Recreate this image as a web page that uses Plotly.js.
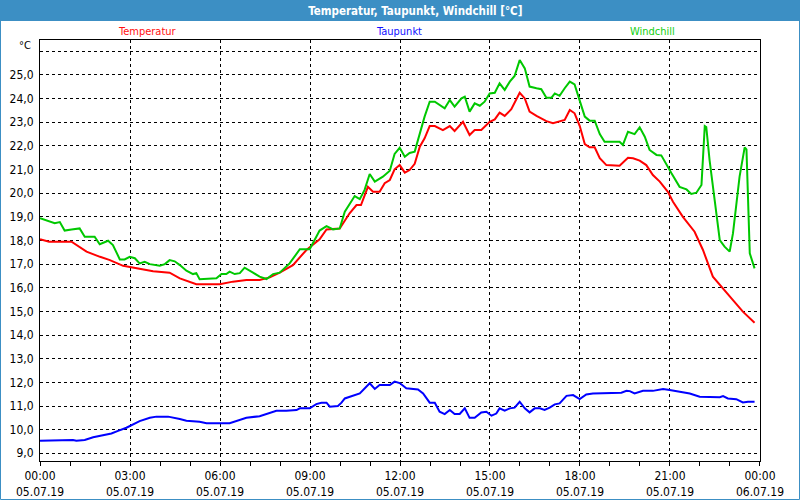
<!DOCTYPE html>
<html>
<head>
<meta charset="utf-8">
<script src="https://cdn.plot.ly/plotly-3.0.1.min.js"></script>
<style>
  html, body { margin: 0; padding: 0; background: #ffffff; }
  #chart { width: 800px; height: 500px; }
</style>
</head>
<body>
<div id="chart"></div>
<script>
// Time of day in hours (05.07.19)
const tempHours = [0.00,0.30,1.05,1.55,2.00,2.33,2.77,3.21,3.55,3.77,4.32,4.66,5.21,5.99,6.43,6.88,7.32,7.66,7.99,8.43,8.88,9.32,9.55,9.99,10.32,10.55,10.70,10.93,11.10,11.32,11.49,11.66,11.82,11.99,12.16,12.32,12.49,12.66,12.82,12.99,13.16,13.43,13.66,13.82,14.10,14.32,14.49,14.71,14.99,15.16,15.32,15.49,15.71,15.99,16.16,16.32,16.55,16.88,17.10,17.32,17.49,17.66,17.82,17.99,18.16,18.32,18.49,18.66,18.88,19.32,19.60,19.77,19.99,20.21,20.43,20.66,20.93,21.10,21.43,21.82,22.10,22.43,22.71,23.10,23.43,23.66,23.82];
const tempValues = [18.05,17.95,17.95,17.53,17.31,17.17,16.93,16.82,16.75,16.70,16.64,16.40,16.15,16.15,16.26,16.33,16.33,16.44,16.64,16.96,17.60,18.05,18.47,18.51,19.15,19.50,19.50,20.27,20.06,20.06,20.42,20.56,21.01,21.19,20.87,20.98,21.24,21.97,22.32,22.84,22.84,22.67,22.84,22.63,23.02,22.46,22.67,22.67,23.02,23.12,23.41,23.27,23.55,24.25,24.01,23.45,23.27,23.05,22.96,23.03,23.10,23.52,23.38,22.85,22.08,21.94,21.94,21.48,21.19,21.16,21.50,21.48,21.38,21.19,20.77,20.49,20.06,19.64,19.00,18.37,17.60,16.47,16.04,15.48,14.99,14.71,14.52];

const dewHours = [0.00,0.55,1.10,1.21,1.49,1.77,2.10,2.38,2.60,2.88,3.32,3.66,3.88,4.27,4.66,4.88,5.32,5.55,6.32,6.66,6.88,7.32,7.66,7.88,8.21,8.55,8.66,8.99,9.21,9.38,9.55,9.66,9.93,10.05,10.16,10.43,10.66,10.99,11.16,11.32,11.66,11.82,11.99,12.21,12.60,12.77,12.99,13.16,13.32,13.49,13.66,13.82,13.99,14.16,14.32,14.49,14.71,14.88,15.05,15.21,15.32,15.49,15.66,15.82,15.99,16.16,16.32,16.49,16.66,16.82,16.99,17.16,17.32,17.55,17.77,17.99,18.21,18.43,18.99,19.38,19.55,19.66,19.82,20.10,20.43,20.77,20.99,21.32,21.66,21.99,22.66,22.77,22.93,23.21,23.43,23.60,23.82];
const dewValues = [9.53,9.56,9.56,9.53,9.56,9.68,9.75,9.84,9.95,10.08,10.36,10.50,10.55,10.55,10.45,10.38,10.33,10.27,10.27,10.40,10.50,10.57,10.73,10.80,10.80,10.83,10.90,10.90,11.08,11.14,11.14,10.97,11.00,11.14,11.32,11.42,11.53,11.96,11.72,11.89,11.89,12.03,11.97,11.75,11.70,11.53,11.14,11.14,10.76,10.66,10.83,10.66,10.66,10.90,10.50,10.50,10.73,10.76,10.59,10.68,10.90,10.80,10.90,10.93,11.18,10.90,10.73,10.90,10.90,10.83,10.93,11.07,11.11,11.43,11.46,11.29,11.49,11.53,11.53,11.56,11.64,11.63,11.53,11.64,11.64,11.72,11.68,11.61,11.53,11.39,11.37,11.42,11.32,11.29,11.15,11.18,11.18];

const chillHours = [0.00,0.32,0.49,0.66,0.82,1.05,1.32,1.49,1.82,1.99,2.27,2.43,2.66,2.82,2.99,3.16,3.32,3.49,3.66,3.99,4.16,4.32,4.49,4.66,4.88,5.10,5.21,5.32,5.88,6.05,6.21,6.32,6.49,6.66,6.82,7.10,7.32,7.55,7.77,7.99,8.32,8.66,8.99,9.32,9.55,9.77,9.99,10.16,10.49,10.66,10.82,10.99,11.16,11.43,11.66,11.82,11.99,12.16,12.32,12.49,12.66,12.82,12.99,13.16,13.49,13.66,13.82,14.05,14.16,14.32,14.49,14.66,14.82,14.99,15.16,15.32,15.49,15.66,15.82,15.99,16.16,16.32,16.55,16.71,16.88,17.05,17.16,17.32,17.49,17.66,17.82,17.99,18.16,18.32,18.49,18.66,18.82,19.32,19.43,19.60,19.82,19.99,20.16,20.32,20.55,20.71,20.88,21.05,21.32,21.55,21.71,21.88,22.05,22.16,22.21,22.32,22.49,22.66,22.82,22.99,23.10,23.32,23.49,23.55,23.66,23.82];
const chillValues = [18.94,18.79,18.73,18.78,18.42,18.47,18.51,18.16,18.16,17.84,17.99,17.81,17.20,17.20,17.31,17.25,17.03,17.10,17.00,16.93,17.00,17.17,17.12,16.96,16.72,16.58,16.62,16.36,16.40,16.58,16.58,16.68,16.58,16.62,16.85,16.64,16.47,16.37,16.58,16.64,17.03,17.63,17.63,18.42,18.61,18.47,18.51,19.22,19.88,19.75,20.14,20.81,20.49,20.70,20.95,21.66,21.92,21.54,21.70,21.76,22.53,23.24,23.87,23.87,23.59,23.94,23.66,24.01,24.08,23.45,23.80,23.70,23.87,24.22,24.25,24.65,24.37,24.72,24.96,25.63,25.28,24.51,24.44,24.40,24.04,24.04,24.22,24.12,24.44,24.72,24.60,23.94,23.24,23.07,23.07,22.50,22.18,22.18,22.04,22.60,22.50,22.79,22.39,21.83,21.62,21.60,21.19,20.84,20.27,20.16,19.97,20.02,20.35,22.84,22.80,21.40,19.71,18.02,17.74,17.53,18.30,20.70,21.94,21.85,17.46,16.82];

const seriesNames = ["Temperatur", "Taupunkt", "Windchill"];
const xTickVals = [0, 3, 6, 9, 12, 15, 18, 21, 24];
const xTickText = ["00:00<br>05.07.19","03:00<br>05.07.19","06:00<br>05.07.19","09:00<br>05.07.19","12:00<br>05.07.19","15:00<br>05.07.19","18:00<br>05.07.19","21:00<br>05.07.19","00:00<br>06.07.19"];
const yTickVals = [9,10,11,12,13,14,15,16,17,18,19,20,21,22,23,24,25,26];
const yTickText = ["9,0","10,0","11,0","12,0","13,0","14,0","15,0","16,0","17,0","18,0","19,0","20,0","21,0","22,0","23,0","24,0","25,0",""];
const chartTitle = "Temperatur, Taupunkt, Windchill [°C]";
const unitLabel = "°C";

const colors = ["#ff0000", "#0000ff", "#00c800"];
const legendColors = ["#ff1010", "#1010ff", "#10d010"];
const FONT = "Tahoma, 'DejaVu Sans Condensed', 'Noto Sans', sans-serif";

const traces = [
  {x: tempHours, y: tempValues, name: seriesNames[0]},
  {x: dewHours, y: dewValues, name: seriesNames[1]},
  {x: chillHours, y: chillValues, name: seriesNames[2]}
].map((t, i) => Object.assign(t, {
  type: "scatter", mode: "lines", showlegend: false, hoverinfo: "skip",
  line: {color: colors[i], width: 2}
}));

const legendX = [147, 399, 652];
const annotations = seriesNames.map((n, i) => ({
  text: n, xref: "paper", yref: "paper",
  x: (legendX[i] - 40) / 720, y: 1 + (40 - 32) / 421,
  xanchor: "center", yanchor: "middle", showarrow: false,
  font: {family: FONT, size: 11, color: legendColors[i]}
}));
annotations.push({
  text: unitLabel, xref: "paper", yref: "paper",
  x: (33 - 40) / 720, y: 1 - (45 - 40) / 421,
  xanchor: "right", yanchor: "middle", showarrow: false,
  font: {family: FONT, size: 11, color: "#000000"}
});

const layout = {
  width: 800, height: 500,
  margin: {l: 40, r: 40, t: 40, b: 39, pad: 0},
  paper_bgcolor: "#ffffff", plot_bgcolor: "#ffffff",
  font: {family: FONT, size: 12, color: "#000000"},
  title: {
    text: "<b>" + chartTitle + "</b>",
    x: 417 / 800, xanchor: "center", xref: "paper",
    y: 1 - 10.5 / 500, yanchor: "middle", yref: "container",
    font: {family: FONT, size: 11.5, color: "#ffffff"}
  },
  xaxis: {
    range: [-0.001, 24.001], fixedrange: true,
    tickvals: xTickVals, ticktext: xTickText,
    ticks: "outside", ticklen: 4, tickwidth: 1, tickcolor: "#000000",
    minor: {dtick: 1, tick0: 0, ticks: "outside", ticklen: 4, tickcolor: "#000000", showgrid: false},
    showgrid: true, gridcolor: "#000000", gridwidth: 1, griddash: "3px,3px",
    showline: true, linecolor: "#000000", linewidth: 1, mirror: true,
    zeroline: false,
    tickfont: {family: FONT, size: 12, color: "#000000"}
  },
  yaxis: {
    range: [8.674, 26.48], fixedrange: true,
    tickvals: yTickVals, ticktext: yTickText,
    ticks: "", ticklabelstandoff: 3,
    showgrid: true, gridcolor: "#000000", gridwidth: 1, griddash: "3px,3px",
    showline: true, linecolor: "#000000", linewidth: 1, mirror: true,
    zeroline: false,
    tickfont: {family: FONT, size: 12, color: "#000000"}
  },
  shapes: [
    {type: "rect", xref: "paper", yref: "paper", layer: "below",
     x0: -40/720, x1: 1 + 40/720, y0: 1 + 19/421, y1: 1 + 40/421,
     fillcolor: "#3c8fc4", line: {width: 0}},
    {type: "rect", xref: "paper", yref: "paper", layer: "below",
     x0: -39.5/720, x1: 1 + 39.5/720, y0: -38.5/421, y1: 1 + 39.5/421,
     fillcolor: "rgba(0,0,0,0)", line: {width: 1, color: "#3c8fc4"}}
  ],
  annotations: annotations
};

Plotly.newPlot("chart", traces, layout, {staticPlot: true, displayModeBar: false});
</script>
</body>
</html>
